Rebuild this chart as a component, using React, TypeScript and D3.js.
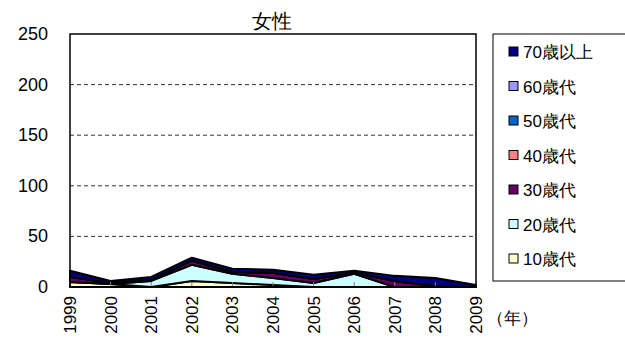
import React from "react";
import * as d3 from "d3";

const years = ["1999","2000","2001","2002","2003","2004","2005","2006","2007","2008","2009"];
const seriesNames = ["10歳代","20歳代","30歳代","40歳代","50歳代","60歳代","70歳以上"];
const v10 = [5, 3, 0, 6, 4, 2, 0, 0, 0, 0, 0];
const v20 = [0, 0, 6, 16, 9, 7, 4, 13, 0, 0, 0];
const v30 = [5, 1, 1, 4, 2, 5, 4, 1, 6, 1, 0];
const v40 = [0, 0, 0, 0, 0, 0, 0, 0, 0, 0, 0];
const v50 = [0, 0, 0, 0, 0, 0, 0, 0, 0, 0, 0];
const v60 = [0, 0, 0, 0, 0, 0, 0, 0, 0, 0, 0];
const v70 = [6, 2, 3, 3, 3, 3, 4, 2, 5, 8, 2];
const colors = ["#FFFFCC","#CCFFFF","#660066","#FF8080","#0066CC","#9999FF","#000080"];
const yTicks = [0, 50, 100, 150, 200, 250];

export default function App() {
  const W = 625, H = 356;
  const left = 70, right = 476, top = 34, bottom = 287;
  const x = d3.scalePoint<string>().domain(years).range([left, right]);
  const y = d3.scaleLinear().domain([0, 250]).range([bottom, top]);
  const all = [v10, v20, v30, v40, v50, v60, v70];
  const table = years.map((yr, i) => {
    const o: any = { year: yr };
    seriesNames.forEach((s, k) => (o[s] = all[k][i]));
    return o;
  });
  const stacked = d3.stack<any>().keys(seriesNames)(table);
  const area = d3.area<any>()
    .x((d) => x(d.data.year) as number)
    .y0((d) => y(d[0]))
    .y1((d) => y(d[1]));
  const font = "Arial, 'Liberation Sans', sans-serif";
  const legendOrder = [...seriesNames].reverse();
  const legendColors = [...colors].reverse();
  return (
    <svg width={W} height={H} style={{ position: "absolute", left: 0, top: 0 }}>
      <rect width={W} height={H} fill="#fff" />
      <text x={272} y={28} fontSize={20} fontFamily={font} textAnchor="middle">女性</text>
      {yTicks.map((t) => (
        <g key={t}>
          {t > 0 && t < 250 && (
            <line x1={left} x2={right} y1={y(t)} y2={y(t)} stroke="#000" strokeWidth={0.8} strokeDasharray="4,3" />
          )}
          <text x={48} y={y(t) + 6} fontSize={18} fontFamily={font} textAnchor="end">{t}</text>
        </g>
      ))}
      {stacked.map((s, k) => (
        <path key={k} d={area(s) as string} fill={colors[k]} stroke="#000" strokeWidth={2} strokeLinejoin="round" />
      ))}
      {years.map((yr) => (
        <line key={yr} x1={x(yr)} x2={x(yr)} y1={bottom} y2={bottom - 5} stroke="#808080" strokeWidth={1} />
      ))}
      <rect x={left} y={top} width={right - left} height={bottom - top} fill="none" stroke="#000" strokeWidth={1.5} />
      <line x1={left} x2={right} y1={bottom} y2={bottom} stroke="#000" strokeWidth={2} />
      {years.map((yr) => (
        <text key={yr} transform={`translate(${(x(yr) as number) + 6},${296}) rotate(-90)`} fontSize={17} fontFamily={font} textAnchor="end">{yr}</text>
      ))}
      <text x={487} y={324} fontSize={17} fontFamily={font}>（年）</text>
      <rect x={493} y={34} width={140} height={247} fill="#fff" stroke="#000" strokeWidth={1} />
      {legendOrder.map((n, i) => (
        <g key={n}>
          <rect x={509} y={47 + i * 34.5} width={9} height={9} fill={legendColors[i]} stroke="#000" strokeWidth={1} />
          <text x={523} y={58 + i * 34.5} fontSize={17} fontFamily={font}>{n}</text>
        </g>
      ))}
    </svg>
  );
}
